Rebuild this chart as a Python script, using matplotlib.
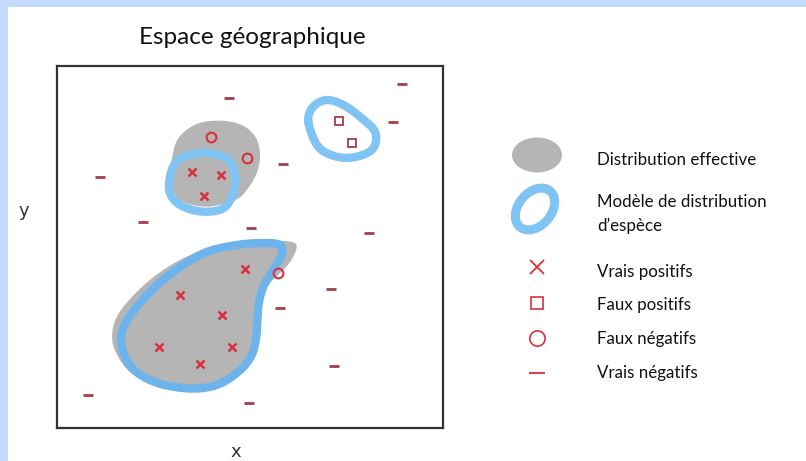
import numpy as np
import matplotlib
matplotlib.use("Agg")
import matplotlib.pyplot as plt
from matplotlib.patches import Rectangle, Polygon, Ellipse

# frame coordinates: x 0..386, y 0..362 (origin bottom-left of the frame)
neg_x = [344.7, 172, 335.7, 43, 225.7, 85.7, 194, 312, 274, 223, 277.3, 30.7, 192]
neg_y = [343.7, 330.3, 305.7, 251.3, 264, 205.7, 199.7, 194.7, 138.7, 120, 62, 33, 25]

fp_x = [282, 294.7]          # faux positifs (carres)
fp_y = [307, 285]

fn_x = [154, 190.3, 221]     # faux negatifs (cercles)
fn_y = [291, 270, 154.7]

vp_x = [135.3, 164.3, 146.7, 187.7, 123.3, 165.3, 101.7, 175.3, 143]
vp_y = [255.7, 253, 231.7, 159.3, 132.7, 113, 81, 80.7, 63.7]

# distribution effective (gris)
blob1 = [(114.7, 268), (121.3, 289.7), (139.7, 304), (163, 307.3), (184.7, 303), (198.7, 290.7),
         (203, 273), (199.7, 254.7), (189.7, 238), (178, 228), (149.7, 221.3), (123, 228), (113, 248)]
blob2 = [(238, 184.7), (236.3, 171.3), (226.3, 158), (209.7, 141.3), (203, 124.7), (201.3, 98),
         (196.3, 74.7), (183, 58), (159.7, 43), (133, 37), (99.7, 42), (72, 57), (57, 80), (56, 100),
         (64, 118), (86, 142), (114, 163), (146, 178), (179.7, 185.5), (213, 187.3)]

# modele de distribution (bleu)
ring1 = [(112, 244.7), (118, 264.7), (133, 273), (153, 274.7), (171.3, 268), (178, 253),
         (176.3, 234.7), (166.3, 219.7), (146.3, 216.3), (126.3, 221.3), (114.7, 231.3)]
ring2 = [(251.3, 306.3), (256.3, 321.3), (269.7, 328), (286.3, 323), (303, 311.3), (318, 296.3),
         (316.3, 279.7), (299.7, 271.3), (279.7, 271.3), (261.3, 281.3)]
ring3 = [(223, 183), (224.7, 173), (216.3, 158), (206.3, 141.3), (201.3, 121.3), (199.7, 94.7),
         (194.7, 73), (181.3, 56.3), (159.7, 43), (133, 39.5), (100.5, 45), (76, 59), (65, 80),
         (65.5, 98), (76, 116.3), (97, 140), (123, 161), (149.7, 176), (179.7, 183), (206.3, 185)]

legend_labels = ["Distribution effective", "Modèle de distribution\nd\u2019espèce",
                 "Vrais positifs", "Faux positifs", "Faux négatifs", "Vrais négatifs"]

GRAY = "#b5b5b5"
BLUE = "#80c4f4"
BLUE2 = "#6db4ec"
RED = "#d8303c"
DARKRED = "#a0404a"


def smooth(pts, n=30):
    # closed catmull-rom curve through the points
    p = np.array(pts, dtype=float)
    out = []
    m = len(p)
    for i in range(m):
        p0, p1, p2, p3 = p[i - 1], p[i], p[(i + 1) % m], p[(i + 2) % m]
        t = np.linspace(0, 1, n, endpoint=False)[:, None]
        c = 0.5 * ((2 * p1) + (-p0 + p2) * t + (2 * p0 - 5 * p1 + 4 * p2 - p3) * t ** 2
                   + (-p0 + 3 * p1 - 3 * p2 + p3) * t ** 3)
        out.append(c)
    c = np.vstack(out)
    return np.vstack([c, c[:1]])


W, H = 806, 461
fig = plt.figure(figsize=(W / 100, H / 100), dpi=100)
fig.patch.set_facecolor("white")

bg = fig.add_axes([0, 0, 1, 1])
bg.set_xlim(0, W)
bg.set_ylim(H, 0)
bg.axis("off")

bg.add_patch(Rectangle((0, 0), W, 7, color="#c5d9fc", lw=0))
bg.add_patch(Rectangle((0, 0), 8, H, color="#c5d9fc", lw=0))

bg.text(252, 37, "Espace géographique", family="Lato", fontsize=17.5, ha="center", va="center", color="#111111")
bg.text(24, 211, "y", fontsize=13, ha="center", va="center", color="#333333")
bg.text(236, 452, "x", fontsize=13, ha="center", va="center", color="#333333")

# legende
bg.add_patch(Ellipse((537, 155), 50, 35, color=GRAY, lw=0))
bg.add_patch(Ellipse((535, 209), 47, 33, angle=-50, fill=False, ec=BLUE, lw=6.5))
bg.plot([537], [267], marker="x", ms=10, mew=1.3, color=RED)
bg.plot([537], [303], marker="s", ms=9, mew=1.2, mfc="none", mec=RED)
bg.plot([537], [338], marker="o", ms=11, mew=1.2, mfc="none", mec=RED)
bg.plot([537], [373], marker="_", ms=12, mew=1.3, color=RED)
for lab, yy in zip(legend_labels, [160, 214, 272, 305, 339, 373]):
    bg.text(597, yy, lab, family="Lato", fontsize=12.2, ha="left", va="center",
            color="#111111", linespacing=1.5)

ax = fig.add_axes([57 / W, (H - 428) / H, 386 / W, 362 / H])
ax.set_xlim(0, 386)
ax.set_ylim(0, 362)
ax.set_xticks([])
ax.set_yticks([])
for s in ax.spines.values():
    s.set_color("#333333")
    s.set_linewidth(1.6)

for b in [blob1, blob2]:
    ax.add_patch(Polygon(smooth(b), closed=True, color=GRAY, lw=0))
for r, col, lw in [(ring1, BLUE, 6), (ring2, BLUE, 6), (ring3, BLUE2, 6)]:
    c = smooth(r)
    ax.plot(c[:, 0], c[:, 1], color=col, lw=lw, solid_capstyle="round")

ax.plot(neg_x, neg_y, ls="none", marker="_", ms=7, mew=2, color=DARKRED)
ax.plot(fp_x, fp_y, ls="none", marker="s", ms=6, mew=1.3, mfc="white", mec=DARKRED)
ax.plot(fn_x, fn_y, ls="none", marker="o", ms=7, mew=1.5, mfc="none", mec=RED)
ax.plot(vp_x, vp_y, ls="none", marker="x", ms=5.5, mew=1.8, color=RED)

fig.savefig("out.png", dpi=100)
